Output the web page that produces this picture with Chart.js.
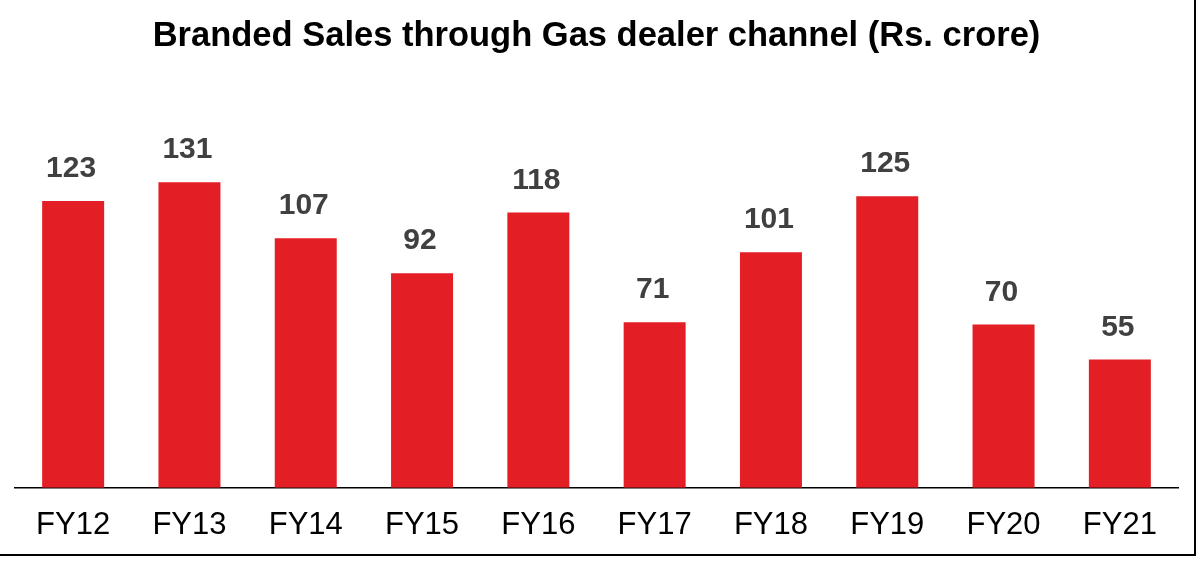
<!DOCTYPE html>
<html>
<head>
<meta charset="utf-8">
<script src="https://cdn.jsdelivr.net/npm/chart.js@4.4.1/dist/chart.umd.min.js"></script>
<style>
html,body{margin:0;padding:0;background:#fff;}
#wrap{width:1203px;height:563px;position:relative;}
</style>
</head>
<body>
<div id="wrap"><canvas id="c" width="1203" height="563"></canvas></div>
<script>
const categories = ["FY12","FY13","FY14","FY15","FY16","FY17","FY18","FY19","FY20","FY21"];
const sales = [123,131,107,92,118,71,101,125,70,55];
const titleText = "Branded Sales through Gas dealer channel (Rs. crore)";

const FONT = "'Liberation Sans', Arial, sans-serif";

const valueLabels = {
  id: 'valueLabels',
  afterDatasetsDraw(chart) {
    const ctx = chart.ctx;
    const meta = chart.getDatasetMeta(0);
    ctx.save();
    ctx.font = "bold 30px " + FONT;
    ctx.fillStyle = "#404040";
    ctx.textAlign = "center";
    ctx.textBaseline = "alphabetic";
    meta.data.forEach((bar, i) => {
      ctx.fillText(String(sales[i]), bar.x - 2, bar.y - 24);
    });
    ctx.restore();
  }
};

const frame = {
  id: 'frame',
  afterDraw(chart) {
    const ctx = chart.ctx;
    ctx.save();
    ctx.strokeStyle = "#000";
    ctx.lineWidth = 2;
    ctx.beginPath();
    ctx.moveTo(0, 555);
    ctx.lineTo(1195, 555);
    ctx.lineTo(1195, 0);
    ctx.stroke();
    ctx.restore();
  }
};

new Chart(document.getElementById('c'), {
  type: 'bar',
  data: {
    labels: categories,
    datasets: [{
      data: sales,
      backgroundColor: "#E31E24",
      borderWidth: 0,
      barPercentage: 0.533,
      categoryPercentage: 1.0
    }]
  },
  options: {
    responsive: false,
    animation: false,
    devicePixelRatio: 1,
    layout: { padding: { left: 15, right: 25, top: 0, bottom: 0 } },
    plugins: {
      legend: { display: false },
      tooltip: { enabled: false },
      title: {
        display: true,
        text: titleText,
        color: "#000",
        font: { family: FONT, size: 34.5, weight: 'bold' },
        padding: { top: 16, bottom: 80.6 }
      }
    },
    scales: {
      x: {
        grid: { display: false, drawTicks: false },
        border: { display: true, color: "#000", width: 1.5 },
        ticks: { color: "#000", font: { family: FONT, size: 31 }, padding: 19 }
      },
      y: {
        display: false,
        min: 0,
        max: 150
      }
    }
  },
  plugins: [valueLabels, frame]
});
</script>
</body>
</html>
